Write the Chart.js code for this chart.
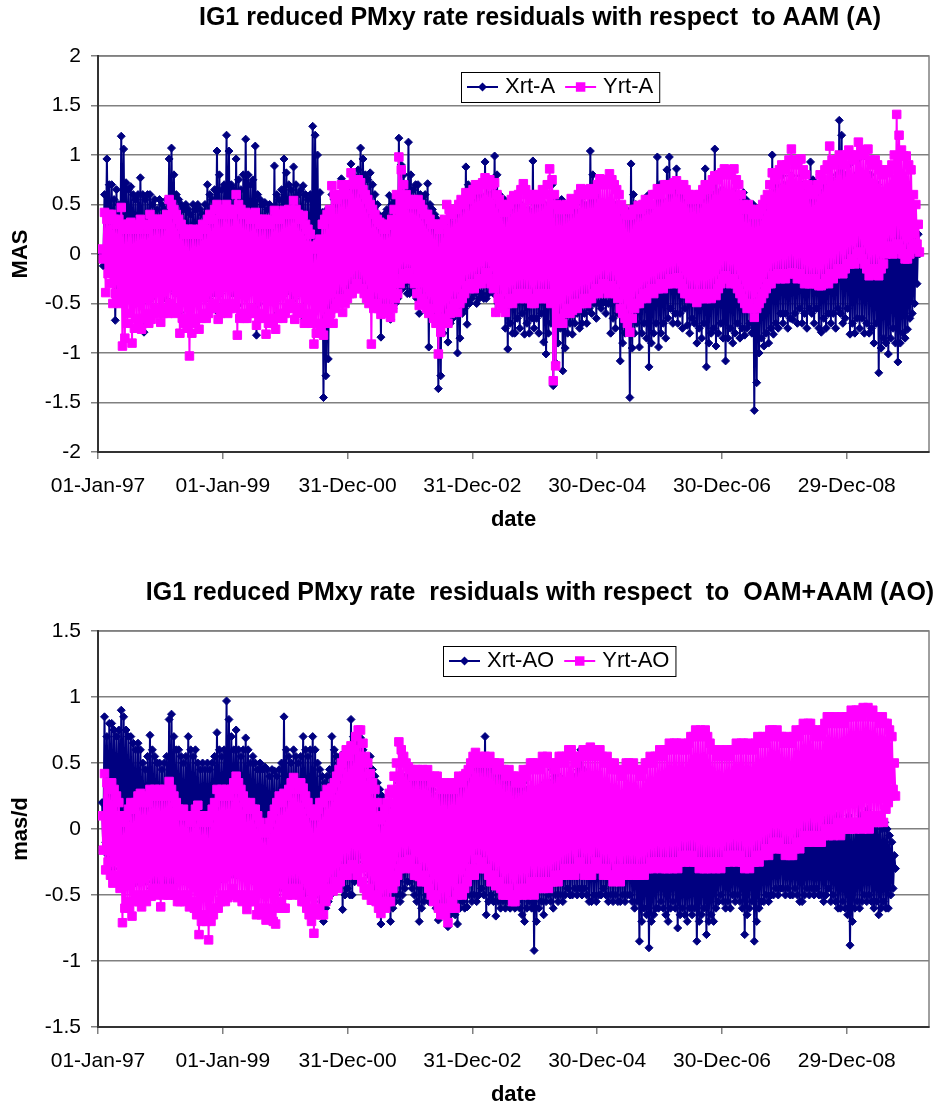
<!DOCTYPE html>
<html>
<head>
<meta charset="utf-8">
<script src="https://cdn.jsdelivr.net/npm/chart.js@4.4.1/dist/chart.umd.min.js"></script>
<style>
  html, body { margin: 0; padding: 0; background: #fff; }
  #page { position: relative; width: 936px; height: 1110px; }
  .panel { position: absolute; left: 0; width: 936px; height: 555px; }
</style>
</head>
<body>
<div id="page">
  <div class="panel" style="top:0"><canvas id="chartA" width="936" height="555"></canvas></div>
  <div class="panel" style="top:555px"><canvas id="chartAO" width="936" height="555"></canvas></div>
</div>
<script>
// days counted from 01-Jan-97, one sample every 7 days
const firstSampleDay = 24;
const sampleStepDays = 7;
const axisEndDay = 4861;
const tickDays = [0, 730, 1460, 2190, 2920, 3650, 4380];
const tickLabels = ['01-Jan-97', '01-Jan-99', '31-Dec-00', '31-Dec-02', '30-Dec-04', '30-Dec-06', '29-Dec-08'];

const yTicksA = [-2, -1.5, -1, -0.5, 0, 0.5, 1, 1.5, 2];
const yLabelsA = ['-2', '-1.5', '-1', '-0.5', '0', '0.5', '1', '1.5', '2'];
const yTicksAO = [-1.5, -1, -0.5, 0, 0.5, 1, 1.5];
const yLabelsAO = ['-1.5', '-1', '-0.5', '0', '0.5', '1', '1.5'];

// IG1 residuals w.r.t. AAM (A)
const xrtA = [
  0.0, -0.12, 0.6, -0.1, 0.96, 0.0, 0.7, -0.2,      0.7, -0.3, 0.55, -0.67, 0.65, -0.4, 0.5, -0.3,
  1.19, -0.2, 1.06, -0.25, 0.72, -0.3, 0.65, -0.35, 0.68, -0.4, 0.6, -0.3, 0.55, -0.45, 0.6, -0.35,
  0.77, -0.5, 0.6, -0.79, 0.55, -0.4, 0.6, -0.35,   0.6, -0.45, 0.5, -0.4, 0.55, -0.35, 0.45, -0.4,
  0.55, -0.55, 0.5, -0.4, 0.45, -0.45, 0.55, -0.35, 0.96, -0.35, 1.07, -0.3, 0.8, -0.4, 0.6, -0.35,
  0.55, -0.59, 0.5, -0.4, 0.45, -0.45, 0.5, -0.35,  0.45, -0.4, 0.4, -0.35, 0.5, -0.3, 0.45, -0.4,
  0.5, -0.35, 0.45, -0.3, 0.4, -0.4, 0.5, -0.3,     0.7, -0.45, 0.6, -0.35, 0.55, -0.4, 0.65, -0.3,
  1.04, -0.59, 0.8, -0.4, 0.65, -0.35, 0.7, -0.3,   1.2, -0.3, 1.04, -0.35, 0.7, -0.4, 0.65, -0.3,
  0.96, -0.52, 0.75, -0.4, 0.65, -0.35, 0.8, -0.3,  1.16, -0.35, 0.8, -0.4, 0.7, -0.3, 0.75, -0.35,
  1.09, -0.82, 0.6, -0.5, 0.55, -0.4, 0.5, -0.35,   0.52, -0.45, 0.45, -0.4, 0.5, -0.35, 0.45, -0.4,
  0.89, -0.62, 0.6, -0.45, 0.55, -0.4, 0.65, -0.35, 0.96, -0.4, 0.82, -0.35, 0.7, -0.3, 0.65, -0.4,
  0.88, -0.45, 0.7, -0.4, 0.6, -0.35, 0.65, -0.3,   0.69, -0.66, 0.6, -0.45, 0.55, -0.4, 0.6, -0.35,
  1.29, -0.3, 1.2, -0.35, 1.0, -0.4, 0.62, -0.45,   0.42, -1.45, 0.4, -1.23, 0.45, -1.06, 0.4, -0.6,
  0.6, -0.5, 0.55, -0.45, 0.5, -0.4, 0.6, -0.35,    0.76, -0.49, 0.6, -0.4, 0.65, -0.35, 0.7, -0.3,
  0.91, -0.35, 0.8, -0.3, 0.75, -0.35, 0.85, -0.3,  1.07, -0.3, 0.96, -0.25, 0.8, -0.3, 0.75, -0.35,
  0.82, -0.4, 0.7, -0.45, 0.6, -0.5, 0.5, -0.55,    0.39, -0.84, 0.35, -0.6, 0.4, -0.55, 0.45, -0.6,
  0.59, -0.66, 0.5, -0.55, 0.55, -0.5, 0.5, -0.45,  1.17, -0.3, 0.9, -0.35, 0.8, -0.3, 0.7, -0.4,
  1.13, -0.4, 0.8, -0.35, 0.65, -0.4, 0.7, -0.45,   0.7, -0.6, 0.6, -0.5, 0.55, -0.45, 0.6, -0.5,
  0.71, -0.94, 0.5, -0.6, 0.45, -0.55, 0.4, -0.65,  0.35, -1.36, 0.3, -1.23, 0.35, -0.8, 0.3, -0.7,
  0.3, -0.89, 0.35, -0.7, 0.3, -0.65, 0.4, -0.6,    0.45, -1.0, 0.4, -0.85, 0.45, -0.6, 0.5, -0.55,
  0.88, -0.71, 0.7, -0.5, 0.6, -0.45, 0.65, -0.4,   0.6, -0.5, 0.55, -0.45, 0.6, -0.4, 0.5, -0.45,
  0.93, -0.45, 0.75, -0.4, 0.6, -0.35, 0.7, -0.4,   0.99, -0.59, 0.8, -0.5, 0.6, -0.45, 0.55, -0.5,
  0.55, -0.75, 0.5, -0.96, 0.45, -0.7, 0.5, -0.8,   0.55, -0.8, 0.5, -0.65, 0.45, -0.75, 0.5, -0.6,
  0.45, -0.81, 0.4, -0.7, 0.45, -0.8, 0.4, -0.65,   0.94, -0.75, 0.6, -0.65, 0.5, -0.8, 0.55, -0.6,
  0.6, -0.89, 0.5, -1.01, 0.45, -0.8, 0.5, -0.7,    0.7, -1.33, 0.55, -1.1, 0.5, -0.9, 0.45, -0.75,
  0.55, -1.18, 0.5, -0.95, 0.45, -0.8, 0.4, -0.7,   0.42, -0.81, 0.4, -0.7, 0.45, -0.6, 0.4, -0.75,
  0.55, -0.7, 0.5, -0.6, 0.45, -0.7, 0.5, -0.55,    1.04, -0.6, 0.8, -0.5, 0.6, -0.65, 0.55, -0.5,
  0.52, -0.55, 0.5, -0.49, 0.45, -0.6, 0.5, -0.5,   0.52, -0.8, 0.5, -0.65, 0.45, -0.75, 0.5, -0.6,
  0.5, -1.08, 0.45, -0.9, 0.4, -0.8, 0.45, -0.7,    0.4, -1.45, 0.91, -0.95, 0.6, -0.8, 0.5, -0.7,
  0.45, -0.94, 0.4, -0.8, 0.45, -0.7, 0.4, -0.85,   0.59, -1.14, 0.5, -0.9, 0.45, -0.8, 0.5, -0.7,
  0.98, -0.94, 0.7, -0.8, 0.55, -0.7, 0.5, -0.85,   0.85, -0.65, 0.98, -0.55, 0.7, -0.7, 0.6, -0.6,
  0.86, -0.7, 0.65, -0.6, 0.55, -0.75, 0.6, -0.55,  0.6, -0.72, 0.55, -0.8, 0.5, -0.65, 0.55, -0.7,
  0.6, -0.9, 0.55, -0.75, 0.5, -0.85, 0.55, -0.7,   0.86, -1.14, 0.65, -0.9, 0.55, -0.8, 0.6, -0.75,
  1.06, -0.93, 0.75, -0.8, 0.6, -0.7, 0.65, -0.85,  0.6, -1.08, 0.55, -0.85, 0.5, -0.75, 0.55, -0.9,
  0.62, -0.8, 0.55, -0.7, 0.5, -0.85, 0.55, -0.75,  0.62, -0.82, 0.55, -0.75, 0.5, -0.7, 0.45, -0.8,
  0.5, -1.58, 0.45, -1.3, 0.4, -1.0, 0.45, -0.85,   0.5, -0.93, 0.45, -0.8, 0.5, -0.9, 0.55, -0.75,
  1.0, -0.81, 0.8, -0.7, 0.7, -0.75, 0.65, -0.6,    0.79, -0.7, 0.7, -0.6, 0.65, -0.75, 0.7, -0.65,
  0.79, -0.66, 0.7, -0.6, 0.65, -0.7, 0.7, -0.55,   0.79, -0.7, 0.7, -0.6, 0.6, -0.75, 0.65, -0.55,
  0.93, -0.6, 0.75, -0.7, 0.65, -0.55, 0.7, -0.75,  0.8, -0.79, 0.7, -0.65, 0.65, -0.75, 0.7, -0.6,
  0.9, -0.7, 0.75, -0.6, 0.7, -0.75, 0.8, -0.55,    1.35, -0.6, 1.2, -0.7, 0.9, -0.65, 0.8, -0.55,
  0.9, -0.81, 0.75, -0.7, 0.7, -0.8, 0.8, -0.65,    0.96, -0.75, 0.8, -0.65, 0.7, -0.8, 0.75, -0.7,
  0.96, -0.8, 0.8, -0.75, 0.7, -0.9, 0.65, -0.7,    0.7, -1.2, 0.6, -0.95, 0.55, -0.85, 0.5, -0.9,
  0.5, -1.01, 0.45, -0.85, 0.5, -0.75, 0.4, -0.9,   0.32, -1.09, 0.3, -0.9, 0.35, -0.8, 0.3, -0.85,
  0.3, -0.76, 0.25, -0.65, 0.3, -0.6, 0.2, -0.5,    0.3, -0.3, 0.2, 0.0
];
const yrtA = [
  0.05, -0.05, 0.42, -0.39, 0.35, -0.2, 0.4, -0.3,  0.4, -0.5, 0.35, -0.4, 0.3, -0.45, 0.35, -0.5,
  0.47, -0.93, 0.3, -0.85, 0.25, -0.7, 0.3, -0.6,   0.32, -0.9, 0.25, -0.75, 0.3, -0.65, 0.25, -0.7,
  0.35, -0.76, 0.3, -0.65, 0.3, -0.6, 0.25, -0.7,   0.4, -0.66, 0.35, -0.6, 0.3, -0.55, 0.35, -0.6,
  0.35, -0.69, 0.3, -0.6, 0.35, -0.55, 0.4, -0.6,   0.55, -0.5, 0.5, -0.55, 0.45, -0.6, 0.4, -0.55,
  0.35, -0.8, 0.3, -0.65, 0.25, -0.7, 0.2, -0.75,   0.25, -1.03, 0.2, -0.8, 0.25, -0.7, 0.2, -0.65,
  0.2, -0.76, 0.25, -0.65, 0.3, -0.6, 0.25, -0.65,  0.35, -0.6, 0.4, -0.55, 0.35, -0.5, 0.45, -0.55,
  0.5, -0.66, 0.45, -0.6, 0.4, -0.55, 0.45, -0.5,   0.5, -0.6, 0.45, -0.55, 0.4, -0.5, 0.45, -0.55,
  0.6, -0.82, 0.5, -0.65, 0.45, -0.6, 0.4, -0.65,   0.42, -0.65, 0.4, -0.6, 0.35, -0.55, 0.4, -0.6,
  0.42, -0.72, 0.35, -0.65, 0.3, -0.6, 0.35, -0.65, 0.35, -0.81, 0.3, -0.7, 0.3, -0.65, 0.35, -0.7,
  0.44, -0.76, 0.4, -0.65, 0.35, -0.6, 0.4, -0.65,  0.44, -0.6, 0.4, -0.55, 0.45, -0.5, 0.4, -0.55,
  0.54, -0.66, 0.45, -0.6, 0.4, -0.55, 0.35, -0.6,  0.39, -0.7, 0.3, -0.65, 0.25, -0.6, 0.2, -0.7,
  0.08, -0.91, 0.05, -0.8, 0.1, -0.7, 0.15, -0.75,  0.3, -0.82, 0.35, -0.7, 0.4, -0.65, 0.45, -0.6,
  0.69, -0.7, 0.6, -0.55, 0.55, -0.5, 0.6, -0.45,   0.7, -0.59, 0.65, -0.5, 0.6, -0.45, 0.7, -0.4,
  0.82, -0.4, 0.75, -0.35, 0.7, -0.3, 0.75, -0.35,  0.72, -0.35, 0.65, -0.4, 0.6, -0.45, 0.55, -0.5,
  0.5, -0.91, 0.45, -0.55, 0.4, -0.5, 0.35, -0.55,  0.32, -0.61, 0.3, -0.55, 0.25, -0.6, 0.3, -0.55,
  0.29, -0.64, 0.35, -0.55, 0.45, -0.45, 0.6, -0.4, 0.98, -0.3, 0.85, -0.25, 0.7, -0.2, 0.6, -0.25,
  0.55, -0.19, 0.5, -0.25, 0.55, -0.3, 0.5, -0.4,   0.55, -0.52, 0.5, -0.45, 0.45, -0.5, 0.4, -0.55,
  0.4, -0.6, 0.35, -0.55, 0.3, -0.65, 0.3, -0.7,    0.3, -1.01, 0.25, -0.79, 0.3, -0.7, 0.35, -0.65,
  0.5, -0.7, 0.45, -0.6, 0.4, -0.55, 0.45, -0.5,    0.45, -0.59, 0.5, -0.5, 0.55, -0.45, 0.5, -0.4,
  0.62, -0.32, 0.55, -0.35, 0.6, -0.3, 0.65, -0.35, 0.7, -0.3, 0.65, -0.25, 0.7, -0.3, 0.72, -0.25,
  0.77, -0.19, 0.7, -0.25, 0.75, -0.3, 0.7, -0.35,  0.72, -0.59, 0.6, -0.45, 0.55, -0.5, 0.5, -0.55,
  0.42, -0.59, 0.45, -0.5, 0.5, -0.45, 0.55, -0.5,  0.59, -0.45, 0.55, -0.4, 0.6, -0.45, 0.65, -0.4,
  0.71, -0.45, 0.65, -0.4, 0.6, -0.45, 0.55, -0.5,  0.6, -0.5, 0.55, -0.45, 0.6, -0.4, 0.55, -0.45,
  0.65, -0.45, 0.6, -0.4, 0.7, -0.45, 0.86, -0.5,   0.75, -1.28, 0.6, -1.13, 0.5, -0.7, 0.45, -0.65,
  0.49, -0.7, 0.45, -0.6, 0.5, -0.55, 0.45, -0.6,   0.56, -0.57, 0.5, -0.5, 0.55, -0.55, 0.6, -0.5,
  0.66, -0.5, 0.6, -0.45, 0.65, -0.5, 0.6, -0.45,   0.66, -0.45, 0.6, -0.4, 0.65, -0.35, 0.7, -0.4,
  0.76, -0.35, 0.7, -0.3, 0.75, -0.35, 0.7, -0.4,   0.81, -0.32, 0.75, -0.35, 0.7, -0.4, 0.65, -0.45,
  0.6, -0.55, 0.5, -0.6, 0.45, -0.65, 0.4, -0.7,    0.39, -0.79, 0.4, -0.65, 0.45, -0.55, 0.45, -0.5,
  0.49, -0.5, 0.45, -0.45, 0.5, -0.4, 0.55, -0.45,  0.55, -0.39, 0.5, -0.35, 0.6, -0.4, 0.6, -0.35,
  0.66, -0.35, 0.6, -0.3, 0.65, -0.35, 0.7, -0.3,   0.7, -0.3, 0.65, -0.25, 0.7, -0.3, 0.72, -0.25,
  0.74, -0.24, 0.7, -0.3, 0.65, -0.35, 0.7, -0.4,   0.65, -0.4, 0.6, -0.45, 0.55, -0.4, 0.6, -0.45,
  0.59, -0.49, 0.55, -0.45, 0.6, -0.4, 0.65, -0.45, 0.7, -0.45, 0.65, -0.4, 0.7, -0.45, 0.75, -0.4,
  0.79, -0.42, 0.75, -0.35, 0.8, -0.3, 0.82, -0.25, 0.86, -0.22, 0.8, -0.25, 0.85, -0.3, 0.8, -0.25,
  0.86, -0.3, 0.75, -0.35, 0.7, -0.4, 0.6, -0.45,   0.5, -0.5, 0.45, -0.55, 0.5, -0.5, 0.45, -0.55,
  0.4, -0.64, 0.45, -0.55, 0.4, -0.5, 0.45, -0.45,  0.5, -0.4, 0.55, -0.35, 0.6, -0.3, 0.7, -0.3,
  0.82, -0.22, 0.75, -0.25, 0.8, -0.2, 0.85, -0.25, 0.9, -0.2, 0.85, -0.25, 0.9, -0.2, 0.95, -0.2,
  1.06, -0.19, 0.95, -0.2, 0.9, -0.25, 0.95, -0.2,  0.96, -0.25, 0.85, -0.3, 0.8, -0.25, 0.7, -0.3,
  0.62, -0.3, 0.6, -0.25, 0.65, -0.3, 0.7, -0.32,   0.8, -0.32, 0.75, -0.3, 0.85, -0.25, 0.9, -0.3,
  1.09, -0.2, 0.95, -0.25, 0.9, -0.2, 0.95, -0.15,  1.0, -0.15, 0.95, -0.2, 0.9, -0.15, 1.0, -0.1,
  1.05, -0.1, 1.0, -0.05, 0.95, -0.1, 1.0, 0.0,     1.13, 0.02, 1.05, -0.05, 1.0, -0.1, 1.05, -0.15,
  1.06, -0.22, 0.95, -0.2, 0.9, -0.15, 0.95, -0.2,  0.9, -0.22, 0.85, -0.15, 0.8, -0.1, 0.85, 0.0,
  0.82, 0.08, 0.85, 0.05, 0.9, 0.0, 1.0, 0.05,      1.41, 0.1, 1.2, 0.05, 1.05, 0.0, 0.99, -0.05,
  0.99, -0.05, 0.9, 0.0, 0.85, 0.05, 0.6, 0.1,      0.5, 0.1, 0.3, 0.02
];

// IG1 residuals w.r.t. OAM+AAM (AO)
const xrtAO = [
  0.2, -0.16, 0.85, -0.1, 0.7, -0.2, 0.8, -0.15,    0.8, -0.3, 0.75, -0.2, 0.7, -0.25, 0.75, -0.3,
  0.9, -0.3, 0.85, -0.35, 0.75, -0.3, 0.7, -0.4,    0.7, -0.43, 0.65, -0.35, 0.6, -0.4, 0.65, -0.35,
  0.6, -0.4, 0.5, -0.35, 0.45, -0.4, 0.55, -0.35,   0.71, -0.45, 0.6, -0.4, 0.55, -0.35, 0.5, -0.4,
  0.5, -0.45, 0.45, -0.4, 0.5, -0.35, 0.55, -0.4,   0.83, -0.48, 0.87, -0.4, 0.7, -0.35, 0.6, -0.4,
  0.6, -0.4, 0.55, -0.35, 0.5, -0.4, 0.55, -0.35,   0.7, -0.35, 0.6, -0.3, 0.55, -0.35, 0.6, -0.4,
  0.5, -0.4, 0.45, -0.35, 0.5, -0.3, 0.45, -0.35,   0.5, -0.35, 0.45, -0.3, 0.5, -0.35, 0.55, -0.3,
  0.73, -0.4, 0.6, -0.35, 0.55, -0.3, 0.6, -0.35,   0.97, -0.3, 0.83, -0.35, 0.7, -0.3, 0.6, -0.35,
  0.75, -0.35, 0.6, -0.3, 0.55, -0.35, 0.6, -0.3,   0.69, -0.35, 0.6, -0.3, 0.5, -0.35, 0.55, -0.4,
  0.5, -0.4, 0.45, -0.35, 0.5, -0.4, 0.45, -0.35,   0.47, -0.45, 0.45, -0.4, 0.4, -0.45, 0.45, -0.4,
  0.44, -0.5, 0.4, -0.45, 0.45, -0.4, 0.5, -0.45,   0.85, -0.45, 0.6, -0.4, 0.55, -0.45, 0.5, -0.4,
  0.6, -0.46, 0.55, -0.4, 0.5, -0.45, 0.55, -0.4,   0.7, -0.5, 0.6, -0.45, 0.55, -0.4, 0.6, -0.45,
  0.7, -0.5, 0.6, -0.45, 0.5, -0.5, 0.45, -0.55,    0.4, -0.7, 0.35, -0.6, 0.4, -0.55, 0.45, -0.5,
  0.7, -0.45, 0.6, -0.4, 0.55, -0.45, 0.5, -0.4,    0.56, -0.61, 0.5, -0.5, 0.45, -0.45, 0.5, -0.5,
  0.83, -0.5, 0.7, -0.4, 0.6, -0.35, 0.65, -0.3,    0.69, -0.2, 0.6, -0.25, 0.55, -0.3, 0.5, -0.35,
  0.55, -0.4, 0.45, -0.45, 0.4, -0.5, 0.35, -0.55,  0.3, -0.72, 0.25, -0.6, 0.2, -0.55, 0.2, -0.6,
  0.2, -0.7, 0.15, -0.6, 0.2, -0.55, 0.25, -0.5,    0.35, -0.55, 0.3, -0.5, 0.35, -0.45, 0.4, -0.4,
  0.4, -0.4, 0.35, -0.45, 0.4, -0.5, 0.35, -0.55,   0.41, -0.7, 0.35, -0.6, 0.3, -0.55, 0.35, -0.5,
  0.4, -0.55, 0.35, -0.5, 0.3, -0.55, 0.25, -0.6,   0.25, -0.69, 0.2, -0.6, 0.25, -0.65, 0.2, -0.6,
  0.25, -0.74, 0.2, -0.65, 0.25, -0.6, 0.2, -0.65,  0.25, -0.72, 0.3, -0.6, 0.25, -0.55, 0.3, -0.6,
  0.35, -0.59, 0.4, -0.5, 0.35, -0.55, 0.4, -0.5,   0.53, -0.55, 0.45, -0.5, 0.5, -0.45, 0.45, -0.5,
  0.7, -0.65, 0.55, -0.55, 0.5, -0.5, 0.45, -0.55,  0.5, -0.66, 0.45, -0.55, 0.4, -0.6, 0.45, -0.55,
  0.45, -0.6, 0.4, -0.55, 0.35, -0.6, 0.4, -0.55,   0.4, -0.6, 0.35, -0.55, 0.3, -0.6, 0.35, -0.65,
  0.35, -0.7, 0.3, -0.6, 0.3, -0.55, 0.25, -0.6,    0.3, -0.92, 0.25, -0.7, 0.3, -0.6, 0.25, -0.55,
  0.3, -0.65, 0.35, -0.55, 0.3, -0.5, 0.35, -0.55,  0.45, -0.6, 0.4, -0.5, 0.35, -0.55, 0.4, -0.5,
  0.35, -0.55, 0.3, -0.5, 0.35, -0.45, 0.3, -0.5,   0.4, -0.5, 0.35, -0.45, 0.4, -0.5, 0.45, -0.45,
  0.6, -0.5, 0.45, -0.45, 0.4, -0.5, 0.35, -0.55,   0.35, -0.55, 0.3, -0.5, 0.25, -0.55, 0.3, -0.5,
  0.3, -0.5, 0.25, -0.45, 0.2, -0.5, 0.25, -0.55,   0.25, -0.5, 0.2, -0.55, 0.15, -0.5, 0.2, -0.55,
  0.2, -0.55, 0.15, -0.5, 0.1, -0.55, 0.15, -0.5,   0.2, -0.5, 0.15, -0.55, 0.1, -0.6, 0.15, -0.55,
  0.15, -0.85, 0.1, -0.7, 0.05, -0.6, 0.1, -0.65,   0.2, -0.9, 0.1, -0.7, 0.05, -0.65, 0.1, -0.6,
  0.15, -0.6, 0.1, -0.55, 0.05, -0.6, 0.1, -0.65,   0.2, -0.7, 0.1, -0.6, 0.05, -0.55, 0.1, -0.6,
  0.1, -0.75, 0.05, -0.65, 0.0, -0.6, 0.05, -0.65,  0.2, -0.7, 0.1, -0.6, 0.05, -0.65, 0.1, -0.6,
  0.15, -0.85, 0.05, -0.7, 0.0, -0.65, 0.05, -0.6,  0.1, -0.8, 0.05, -0.7, 0.0, -0.65, 0.05, -0.7,
  0.2, -0.6, 0.1, -0.55, 0.05, -0.5, 0.1, -0.55,    0.15, -0.6, 0.1, -0.55, 0.05, -0.6, 0.1, -0.5,
  0.1, -0.55, 0.05, -0.5, 0.0, -0.55, 0.05, -0.6,   0.2, -0.8, 0.1, -0.65, 0.05, -0.6, 0.1, -0.55,
  0.25, -0.85, 0.15, -0.7, 0.1, -0.6, 0.15, -0.55,  0.2, -0.55, 0.1, -0.5, 0.05, -0.55, 0.1, -0.5,
  0.25, -0.5, 0.15, -0.45, 0.1, -0.5, 0.15, -0.45,  0.2, -0.45, 0.1, -0.5, 0.05, -0.45, 0.1, -0.5,
  0.15, -0.5, 0.1, -0.45, 0.05, -0.5, 0.1, -0.55,   0.2, -0.55, 0.1, -0.5, 0.05, -0.45, 0.1, -0.5,
  0.1, -0.45, 0.05, -0.5, 0.0, -0.45, 0.05, -0.5,   0.2, -0.5, 0.1, -0.55, 0.05, -0.5, 0.1, -0.45,
  0.15, -0.55, 0.1, -0.5, 0.05, -0.55, 0.1, -0.6,   0.1, -0.6, 0.05, -0.55, 0.0, -0.6, 0.05, -0.65,
  0.1, -0.88, 0.05, -0.7, 0.0, -0.6, 0.05, -0.55,   0.2, -0.6, 0.1, -0.55, 0.05, -0.5, 0.1, -0.55,
  0.15, -0.5, 0.1, -0.55, 0.05, -0.6, 0.1, -0.55,   0.1, -0.65, 0.05, -0.6, 0.0, -0.55, 0.05, -0.6,
  0.0, -0.6, -0.05, -0.5, -0.1, -0.45, -0.2, -0.3
];
const yrtAO = [
  0.1, -0.16, 0.42, -0.31, 0.35, -0.25, 0.3, -0.35, 0.35, -0.41, 0.3, -0.35, 0.25, -0.4, 0.2, -0.45,
  0.1, -0.71, 0.05, -0.6, 0.1, -0.55, 0.15, -0.6,   0.2, -0.66, 0.15, -0.55, 0.2, -0.5, 0.25, -0.55,
  0.27, -0.59, 0.2, -0.5, 0.25, -0.55, 0.2, -0.5,   0.3, -0.51, 0.25, -0.45, 0.3, -0.5, 0.25, -0.45,
  0.3, -0.59, 0.25, -0.5, 0.3, -0.45, 0.25, -0.5,   0.36, -0.5, 0.3, -0.45, 0.25, -0.5, 0.2, -0.55,
  0.15, -0.55, 0.1, -0.5, 0.15, -0.55, 0.1, -0.5,   0.1, -0.59, 0.05, -0.55, 0.1, -0.6, 0.15, -0.65,
  0.18, -0.8, 0.1, -0.7, 0.05, -0.65, 0.1, -0.7,    0.05, -0.84, 0.1, -0.7, 0.15, -0.65, 0.2, -0.6,
  0.3, -0.6, 0.25, -0.55, 0.3, -0.5, 0.25, -0.55,   0.3, -0.52, 0.25, -0.5, 0.3, -0.45, 0.35, -0.5,
  0.4, -0.52, 0.35, -0.5, 0.3, -0.55, 0.25, -0.5,   0.2, -0.61, 0.15, -0.55, 0.2, -0.5, 0.15, -0.55,
  0.15, -0.65, 0.1, -0.6, 0.05, -0.65, 0.0, -0.6,   -0.03, -0.69, 0.0, -0.6, 0.05, -0.65, 0.1, -0.7,
  0.15, -0.72, 0.2, -0.6, 0.25, -0.55, 0.2, -0.6,   0.27, -0.6, 0.25, -0.5, 0.3, -0.45, 0.35, -0.5,
  0.39, -0.48, 0.35, -0.45, 0.3, -0.5, 0.35, -0.55, 0.31, -0.55, 0.25, -0.6, 0.2, -0.65, 0.15, -0.7,
  0.12, -0.79, 0.1, -0.65, 0.15, -0.6, 0.2, -0.65,  0.2, -0.65, 0.25, -0.55, 0.3, -0.5, 0.25, -0.45,
  0.31, -0.47, 0.35, -0.4, 0.4, -0.45, 0.45, -0.4,  0.5, -0.35, 0.55, -0.3, 0.6, -0.35, 0.55, -0.3,
  0.63, -0.27, 0.6, -0.3, 0.7, -0.35, 0.75, -0.3,   0.75, -0.4, 0.65, -0.45, 0.55, -0.5, 0.5, -0.45,
  0.42, -0.54, 0.35, -0.5, 0.3, -0.55, 0.2, -0.6,   0.07, -0.64, 0.1, -0.55, 0.15, -0.6, 0.2, -0.55,
  0.27, -0.55, 0.3, -0.45, 0.4, -0.4, 0.5, -0.35,   0.66, -0.3, 0.6, -0.25, 0.55, -0.3, 0.5, -0.25,
  0.47, -0.23, 0.45, -0.3, 0.4, -0.35, 0.45, -0.3,  0.45, -0.36, 0.4, -0.4, 0.45, -0.35, 0.4, -0.4,
  0.45, -0.45, 0.4, -0.5, 0.35, -0.55, 0.4, -0.5,   0.4, -0.6, 0.35, -0.65, 0.3, -0.6, 0.35, -0.65,
  0.32, -0.71, 0.3, -0.6, 0.35, -0.55, 0.3, -0.6,   0.35, -0.5, 0.4, -0.45, 0.35, -0.5, 0.4, -0.45,
  0.42, -0.4, 0.45, -0.35, 0.5, -0.3, 0.55, -0.35,  0.58, -0.23, 0.5, -0.3, 0.55, -0.25, 0.5, -0.3,
  0.55, -0.3, 0.5, -0.35, 0.55, -0.4, 0.5, -0.35,   0.5, -0.43, 0.45, -0.4, 0.5, -0.45, 0.45, -0.5,
  0.45, -0.5, 0.4, -0.45, 0.45, -0.5, 0.4, -0.55,   0.4, -0.55, 0.35, -0.5, 0.4, -0.45, 0.35, -0.5,
  0.45, -0.45, 0.4, -0.5, 0.45, -0.45, 0.5, -0.4,   0.5, -0.5, 0.45, -0.45, 0.5, -0.4, 0.45, -0.45,
  0.55, -0.45, 0.5, -0.4, 0.55, -0.45, 0.5, -0.4,   0.5, -0.4, 0.45, -0.35, 0.5, -0.4, 0.55, -0.35,
  0.55, -0.35, 0.5, -0.3, 0.55, -0.35, 0.6, -0.3,   0.6, -0.3, 0.55, -0.35, 0.5, -0.3, 0.55, -0.25,
  0.55, -0.3, 0.6, -0.35, 0.55, -0.3, 0.6, -0.35,   0.62, -0.35, 0.55, -0.3, 0.6, -0.25, 0.55, -0.3,
  0.6, -0.3, 0.55, -0.35, 0.5, -0.3, 0.55, -0.35,   0.5, -0.35, 0.45, -0.4, 0.5, -0.35, 0.45, -0.3,
  0.45, -0.4, 0.4, -0.35, 0.45, -0.3, 0.5, -0.35,   0.5, -0.3, 0.45, -0.35, 0.5, -0.3, 0.45, -0.35,
  0.45, -0.35, 0.4, -0.3, 0.45, -0.35, 0.5, -0.3,   0.5, -0.3, 0.55, -0.25, 0.5, -0.3, 0.55, -0.25,
  0.55, -0.25, 0.6, -0.3, 0.55, -0.25, 0.6, -0.3,   0.6, -0.3, 0.65, -0.25, 0.6, -0.3, 0.65, -0.25,
  0.65, -0.3, 0.6, -0.25, 0.65, -0.2, 0.6, -0.25,   0.6, -0.2, 0.65, -0.25, 0.7, -0.2, 0.7, -0.25,
  0.75, -0.25, 0.7, -0.3, 0.75, -0.25, 0.7, -0.3,   0.75, -0.3, 0.7, -0.25, 0.65, -0.3, 0.6, -0.25,
  0.6, -0.3, 0.55, -0.25, 0.6, -0.3, 0.55, -0.25,   0.55, -0.25, 0.6, -0.2, 0.55, -0.25, 0.6, -0.2,
  0.6, -0.2, 0.65, -0.25, 0.6, -0.2, 0.65, -0.25,   0.65, -0.3, 0.6, -0.25, 0.65, -0.3, 0.6, -0.25,
  0.6, -0.25, 0.65, -0.2, 0.7, -0.25, 0.65, -0.2,   0.7, -0.2, 0.65, -0.15, 0.7, -0.2, 0.75, -0.15,
  0.75, -0.1, 0.7, -0.15, 0.75, -0.1, 0.7, -0.15,   0.7, -0.15, 0.65, -0.2, 0.7, -0.15, 0.65, -0.2,
  0.65, -0.2, 0.7, -0.15, 0.75, -0.1, 0.7, -0.15,   0.75, -0.1, 0.8, -0.05, 0.75, -0.1, 0.8, -0.05,
  0.8, -0.05, 0.75, -0.1, 0.7, -0.05, 0.75, -0.1,   0.7, -0.1, 0.75, -0.05, 0.8, 0.0, 0.85, -0.05,
  0.85, 0.0, 0.8, -0.05, 0.85, 0.0, 0.8, 0.05,      0.8, -0.05, 0.85, 0.0, 0.8, 0.05, 0.85, 0.0,
  0.85, 0.0, 0.9, 0.05, 0.85, 0.0, 0.9, 0.05,       0.9, 0.05, 0.85, 0.0, 0.92, 0.05, 0.88, 0.1,
  0.92, 0.0, 0.85, 0.05, 0.9, 0.1, 0.85, 0.05,      0.85, 0.05, 0.8, 0.1, 0.85, 0.05, 0.8, 0.15,
  0.8, 0.2, 0.75, 0.25, 0.7, 0.3, 0.5, 0.25
];

const NAVY = '#000080';
const PINK = '#FF00FF';
const FONT = "'Liberation Sans', Arial, Helvetica, sans-serif";

// grey frame round the plot area
const plotFrame = {
  id: 'plotFrame',
  beforeDraw(chart) {
    const { ctx, chartArea: a } = chart;
    ctx.save();
    ctx.strokeStyle = '#808080';
    ctx.lineWidth = 1.5;
    ctx.strokeRect(a.left, a.top, a.right - a.left, a.bottom - a.top);
    ctx.restore();
  }
};

// title placed like the original (not centred on the canvas)
const panelTitle = {
  id: 'panelTitle',
  afterDraw(chart, args, opts) {
    const ctx = chart.ctx;
    ctx.save();
    ctx.font = 'bold ' + opts.size + 'px ' + FONT;
    ctx.fillStyle = '#000';
    ctx.textAlign = 'center';
    ctx.textBaseline = 'middle';
    ctx.fillText(opts.text, opts.centerX, chart.chartArea.top - opts.gap);
    ctx.restore();
  }
};

// boxed legend inside the plot area
const boxLegend = {
  id: 'boxLegend',
  afterDraw(chart, args, opts) {
    const ctx = chart.ctx;
    const sets = chart.data.datasets;
    ctx.save();
    ctx.font = opts.size + 'px ' + FONT;
    const cy = opts.top + opts.height / 2;
    let x = opts.left + 6;
    const items = sets.map(ds => {
      const item = { ds: ds, start: x };
      x += 31 + 7 + ctx.measureText(ds.label).width + 10;
      return item;
    });
    const right = x - 10 + 6;
    ctx.fillStyle = '#fff';
    ctx.fillRect(opts.left, opts.top, right - opts.left, opts.height);
    ctx.strokeStyle = '#000';
    ctx.lineWidth = 1;
    ctx.strokeRect(opts.left + 0.5, opts.top + 0.5, right - opts.left, opts.height);
    items.forEach(({ ds, start }) => {
      ctx.strokeStyle = ds.borderColor;
      ctx.fillStyle = ds.borderColor;
      ctx.lineWidth = 2;
      ctx.beginPath();
      ctx.moveTo(start, cy);
      ctx.lineTo(start + 31, cy);
      ctx.stroke();
      const mx = start + 15.5;
      ctx.beginPath();
      if (ds.pointStyle === 'rectRot') {
        const r = ds.pointRadius + 0.5;
        ctx.moveTo(mx - r, cy); ctx.lineTo(mx, cy - r); ctx.lineTo(mx + r, cy); ctx.lineTo(mx, cy + r);
        ctx.closePath();
      } else {
        const h = ds.pointRadius * Math.SQRT1_2 + 0.5;
        ctx.rect(mx - h, cy - h, 2 * h, 2 * h);
      }
      ctx.fill();
      ctx.fillStyle = '#000';
      ctx.textAlign = 'left';
      ctx.textBaseline = 'middle';
      ctx.fillText(ds.label, start + 38, cy);
    });
    ctx.restore();
  }
};

function buildPanel(canvasId, cfg) {
  const toPoints = vals => vals.map((v, i) => ({ x: firstSampleDay + i * sampleStepDays, y: v }));
  return new Chart(document.getElementById(canvasId), {
    type: 'line',
    data: {
      datasets: [
        {
          label: cfg.names[0], data: toPoints(cfg.xs), order: 1,
          borderColor: NAVY, backgroundColor: NAVY, borderWidth: 2,
          pointStyle: 'rectRot', pointRadius: 4, pointBorderWidth: 1, pointHoverRadius: 4
        },
        {
          label: cfg.names[1], data: toPoints(cfg.ys), order: 0,
          borderColor: PINK, backgroundColor: PINK, borderWidth: 2,
          pointStyle: 'rect', pointRadius: 6, pointBorderWidth: 1, pointHoverRadius: 6
        }
      ]
    },
    options: {
      responsive: false,
      animation: false,
      devicePixelRatio: 1,
      layout: { padding: { top: cfg.padTop, right: 1, bottom: cfg.padBottom, left: 0 } },
      plugins: {
        legend: { display: false },
        tooltip: { enabled: false },
        panelTitle: { text: cfg.title, centerX: 540, gap: 38, size: 25 },
        boxLegend: { left: cfg.legendLeft, top: cfg.legendTop, height: 30, size: 22 }
      },
      scales: {
        x: {
          type: 'linear', min: 0, max: axisEndDay,
          afterBuildTicks: axis => { axis.ticks = tickDays.map(d => ({ value: d })); },
          afterFit: axis => { axis.height = 83; },
          ticks: {
            autoSkip: false, maxRotation: 0, padding: 15, color: '#000',
            font: { family: FONT, size: 21 },
            callback: (v, i) => tickLabels[i]
          },
          grid: { drawOnChartArea: false, drawTicks: true, tickLength: 7, color: '#808080', lineWidth: 1.5 },
          border: { display: true, color: '#333', width: 2 },
          title: {
            display: true, text: 'date', color: '#000',
            font: { family: FONT, size: 22, weight: 'bold' },
            padding: { top: 0, bottom: 2 }
          }
        },
        y: {
          min: cfg.yTicks[0], max: cfg.yTicks[cfg.yTicks.length - 1],
          afterBuildTicks: axis => { axis.ticks = cfg.yTicks.map(v => ({ value: v })); },
          afterFit: axis => { axis.width = 98; },
          ticks: {
            padding: 10, color: '#000',
            font: { family: FONT, size: 21 },
            callback: (v, i) => cfg.yLabels[i]
          },
          grid: { color: '#808080', lineWidth: 1.5, tickLength: 7, drawTicks: true },
          border: { color: '#333', width: 2 },
          title: {
            display: true, text: cfg.yTitle, color: '#000',
            font: { family: FONT, size: 22, weight: 'bold' },
            padding: { top: 8, bottom: 0 }
          }
        }
      }
    },
    plugins: [plotFrame, panelTitle, boxLegend]
  });
}

buildPanel('chartA', {
  title: 'IG1 reduced PMxy rate residuals with respect  to AAM (A)',
  names: ['Xrt-A', 'Yrt-A'], xs: xrtA, ys: yrtA,
  yTicks: yTicksA, yLabels: yLabelsA, yTitle: 'MAS',
  padTop: 56, padBottom: 20, legendLeft: 461, legendTop: 72
});

buildPanel('chartAO', {
  title: 'IG1 reduced PMxy rate  residuals with respect  to  OAM+AAM (AO)',
  names: ['Xrt-AO', 'Yrt-AO'], xs: xrtAO, ys: yrtAO,
  yTicks: yTicksAO, yLabels: yLabelsAO, yTitle: 'mas/d',
  padTop: 76, padBottom: 0, legendLeft: 443, legendTop: 91
});
</script>
</body>
</html>
